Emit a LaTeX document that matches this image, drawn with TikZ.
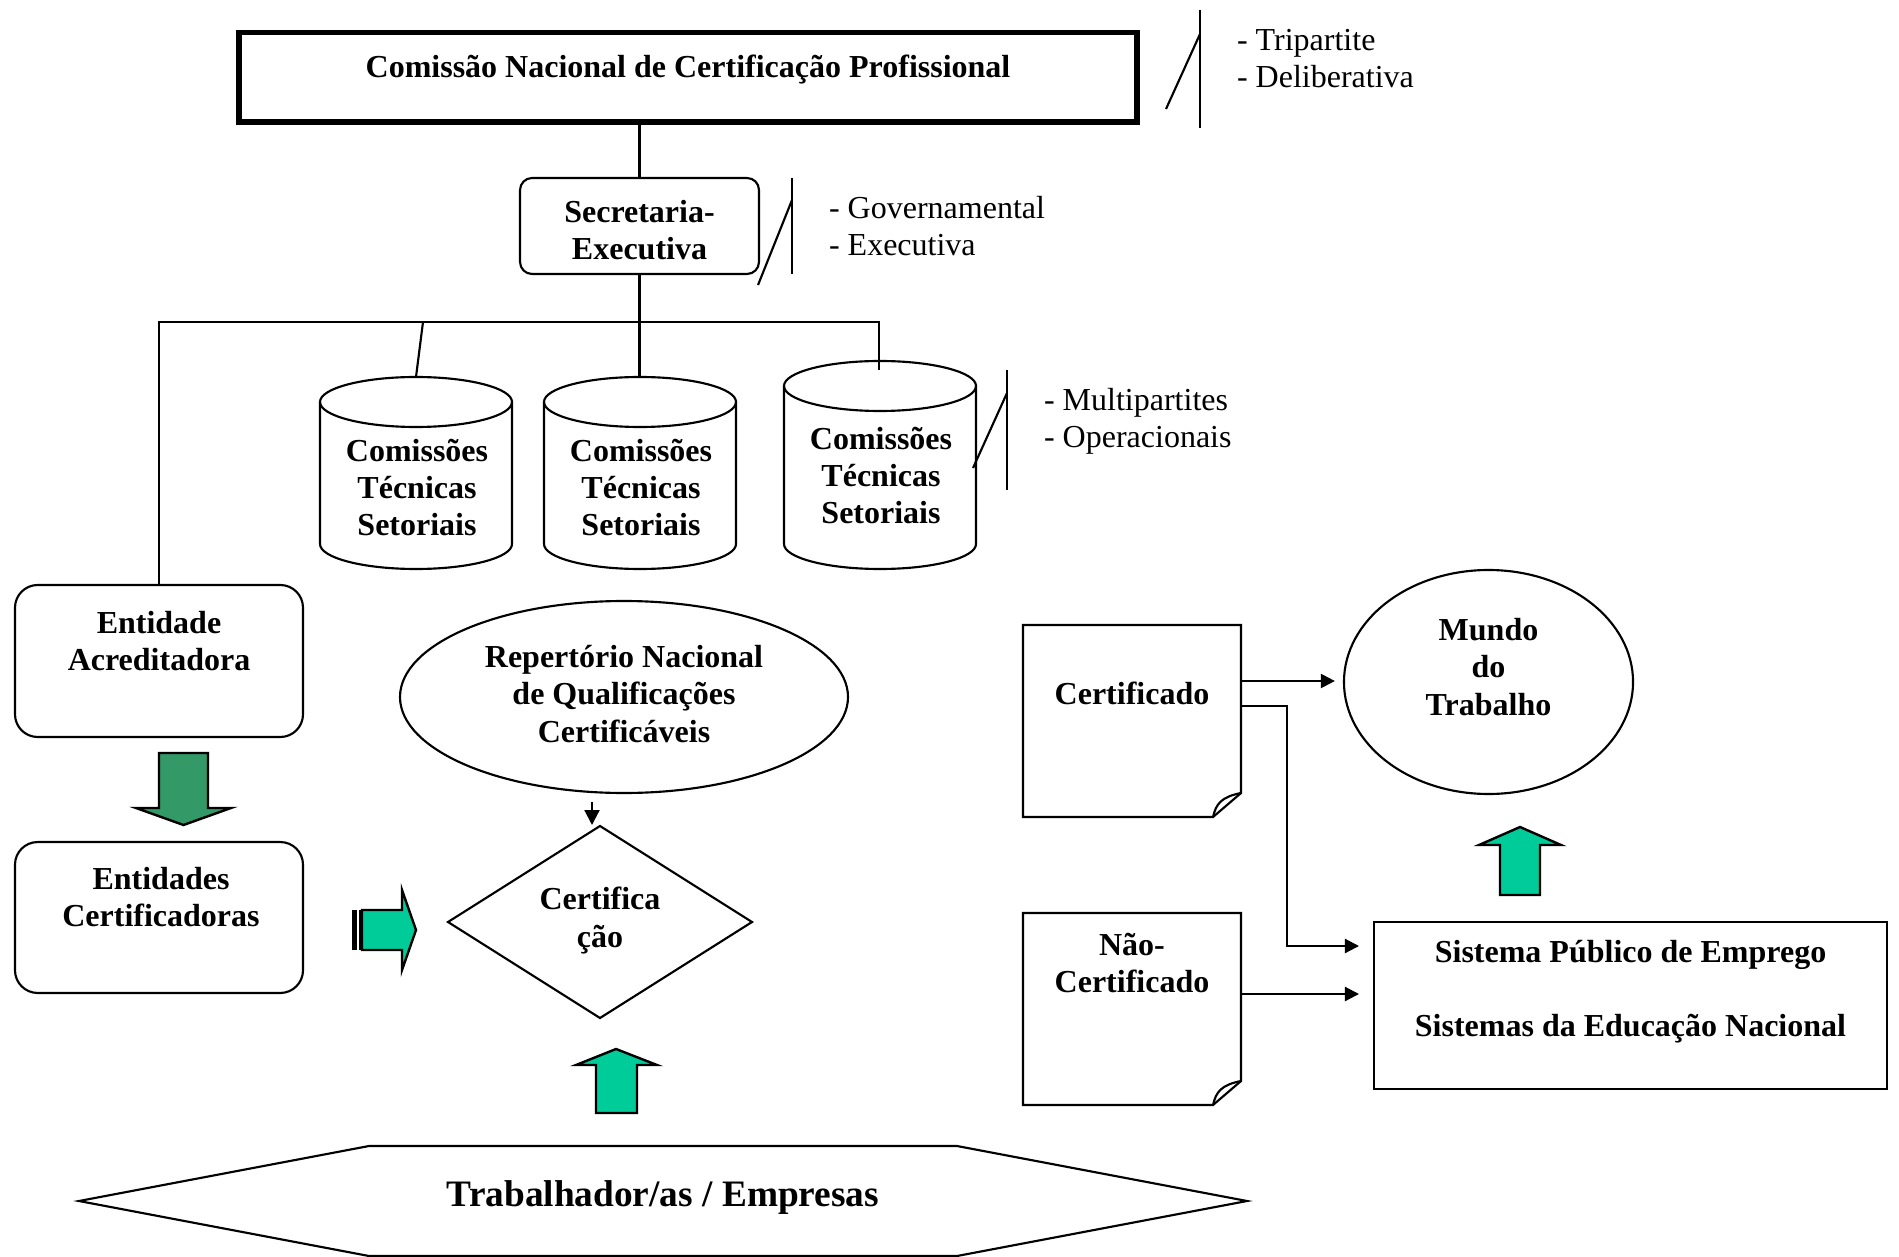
\documentclass[tikz,border=0pt]{standalone}
\usepackage{fontspec}
\setmainfont{Liberation Serif}
\usetikzlibrary{shapes.geometric,arrows.meta}
\definecolor{dkgreen}{RGB}{51,153,102}
\definecolor{cyangreen}{RGB}{0,204,153}
\begin{document}
\begin{tikzpicture}[x=0.375pt,y=-0.375pt,line width=0.8pt,
  lbl/.style={font=\fontsize{12}{13.9}\selectfont\bfseries,align=center,inner sep=0pt},
  biglbl/.style={font=\fontsize{14}{16}\selectfont\bfseries,align=center,inner sep=0pt},
  note/.style={font=\fontsize{12}{13.9}\selectfont,align=left,anchor=west,inner sep=0pt},
  shp/.style={draw,inner sep=0pt},
  rbox/.style={shp,rectangle,rounded corners=8.5pt},
  arr/.style={-{Triangle[length=5.3pt,width=5.3pt]}},
  fatgreen/.style={draw=black,line width=0.9pt,fill=dkgreen},
  fatcyan/.style={draw=black,line width=0.9pt,fill=cyangreen}]
\useasboundingbox (0,0) rectangle (1899,1257);

% ---- top commission
\node[shp,line width=1.9pt,minimum width=336.75pt,minimum height=33.4pt] (cncp) at (688,77.5) {};
\node[lbl] (cncpt) at (688,70) {Comissão Nacional de Certificação Profissional};
\draw (1200,10) -- (1200,128);
\draw (1166,109) -- (1200,34);
\node[note] (trip) at (1236,58.5) {- Tripartite\\- Deliberativa};

% ---- secretaria
\node[shp,rectangle,rounded corners=4.5pt,minimum width=89.6pt,minimum height=36pt] (sec) at (639.5,226) {};
\node[lbl] (sect) at (639.5,230) {Secretaria-\\Executiva};
\draw (sec.north) -- (sec.north |- cncp.south);
\draw (792,178) -- (792,274);
\draw (758,285) -- (792,200);
\node[note] (gov) at (828,226.5) {- Governamental\\- Executiva};

% ---- cylinders
\draw (320,402) -- (320,544) arc[start angle=180,end angle=360,x radius=36pt,y radius=9.375pt] -- (512,402);
\draw (416,402) ellipse [x radius=36pt,y radius=9.375pt];
\draw (544,402) -- (544,544) arc[start angle=180,end angle=360,x radius=36pt,y radius=9.375pt] -- (736,402);
\draw (640,402) ellipse [x radius=36pt,y radius=9.375pt];
\draw (784,386) -- (784,544) arc[start angle=180,end angle=360,x radius=36pt,y radius=9.375pt] -- (976,386);
\draw (880,386) ellipse [x radius=36pt,y radius=9.375pt];
\coordinate (c1top) at (416,377);
\coordinate (c2top) at (640,377);
\coordinate (c3in) at (879,370);
\node[lbl] (cyl1t) at (417,487.5) {Comissões\\Técnicas\\Setoriais};
\node[lbl] (cyl2t) at (641,487.5) {Comissões\\Técnicas\\Setoriais};
\node[lbl] (cyl3t) at (881,475.5) {Comissões\\Técnicas\\Setoriais};
\draw (1007,370) -- (1007,490);
\draw (973,468) -- (1007,393);
\node[note] (multi) at (1043,421.5) {- Multipartites\\- Operacionais};

% ---- entities
\node[rbox,minimum width=108pt,minimum height=57pt] (ent) at (159,661) {};
\node[lbl] (entt) at (159,641) {Entidade\\Acreditadora};
\node[rbox,minimum width=108pt,minimum height=56.6pt] (ents) at (159,917.5) {};
\node[lbl] (entst) at (161,897.5) {Entidades\\Certificadoras};

% ---- bus
\coordinate (busL) at (159,322);
\coordinate (busR) at (879,322);
\coordinate (bus1) at (423,322);
\draw (ent.north) -- (busL) -- (busR) -- (c3in);
\draw (bus1) -- (c1top);
\draw (sec.south) -- (sec.south |- c2top);

% ---- fat arrows left
\draw[fatgreen] (159,753) -- (208,753) -- (208,808) -- (231,808) -- (183.5,825) -- (136,808) -- (159,808) -- cycle;
\fill (352,910) rectangle (357,950);
\fill (358.5,910) rectangle (361,950);
\draw[fatcyan] (362,910) -- (402,910) -- (402,890) -- (416,930) -- (402,970) -- (402,950) -- (362,950) -- cycle;

% ---- repertorio and certificacao
\node[shp,ellipse,minimum width=168pt,minimum height=72pt] (rep) at (624,697) {};
\node[lbl] (rept) at (624,694) {Repertório Nacional\\de Qualificações\\Certificáveis};
\coordinate (repout) at (592,802);
\coordinate (diain) at (592,825);
\draw[-{Triangle[length=5.6pt,width=5.6pt]}] (repout) -- (diain);
\draw (448,922) -- (600,826) -- (752,922) -- (600,1018) -- cycle;
\node[lbl] (diat) at (600,920.5) {Certifica\\ção};
\draw[fatcyan] (596,1113) -- (596,1065) -- (576,1065) -- (616,1049) -- (657,1065) -- (637,1065) -- (637,1113) -- cycle;

% ---- workers hexagon
\draw (79,1201) -- (369,1146) -- (957,1146) -- (1247,1201) -- (957,1256) -- (369,1256) -- cycle;
\node[biglbl] (hext) at (663,1198) {Trabalhador/as / Empresas};

% ---- documents
\draw (1023,625) -- (1241,625) -- (1241,793) -- (1213,817) -- (1023,817) -- cycle;
\draw (1213,817) .. controls (1216,804) and (1221,797) .. (1241,793);
\node[lbl] (certt) at (1132,693) {Certificado};
\draw (1023,913) -- (1241,913) -- (1241,1081) -- (1213,1105) -- (1023,1105) -- cycle;
\draw (1213,1105) .. controls (1216,1092) and (1221,1085) .. (1241,1081);
\node[lbl] (naot) at (1132,963) {Não-\\Certificado};
\coordinate (certE) at (1241,681);
\coordinate (certE2) at (1241,706);
\coordinate (naoE) at (1241,994);

% ---- mundo do trabalho
\node[shp,ellipse,minimum width=108.4pt,minimum height=84pt] (mundo) at (1488.5,682) {};
\node[lbl] (mundot) at (1488.5,667) {Mundo\\do\\Trabalho};
\draw[arr] (certE) -- ([xshift=-3pt]mundo.west |- certE);

% ---- sistema
\node[shp,minimum width=192.4pt,minimum height=62.6pt] (sis) at (1630.5,1005.5) {};
\node[lbl] (sist) at (1630.5,992) {Sistema Público de Emprego\\[13.9pt]Sistemas da Educação Nacional};
\coordinate (sisin1) at (1359,946);
\coordinate (sisin2) at (1359,994);
\draw[arr] (certE2) -- (1287,706) -- (1287,946) -- (sisin1);
\draw[arr] (naoE) -- (sisin2);
\draw[fatcyan] (1500,895) -- (1500,845) -- (1479,845) -- (1520,827) -- (1561,845) -- (1540,845) -- (1540,895) -- cycle;
\end{tikzpicture}
\end{document}
